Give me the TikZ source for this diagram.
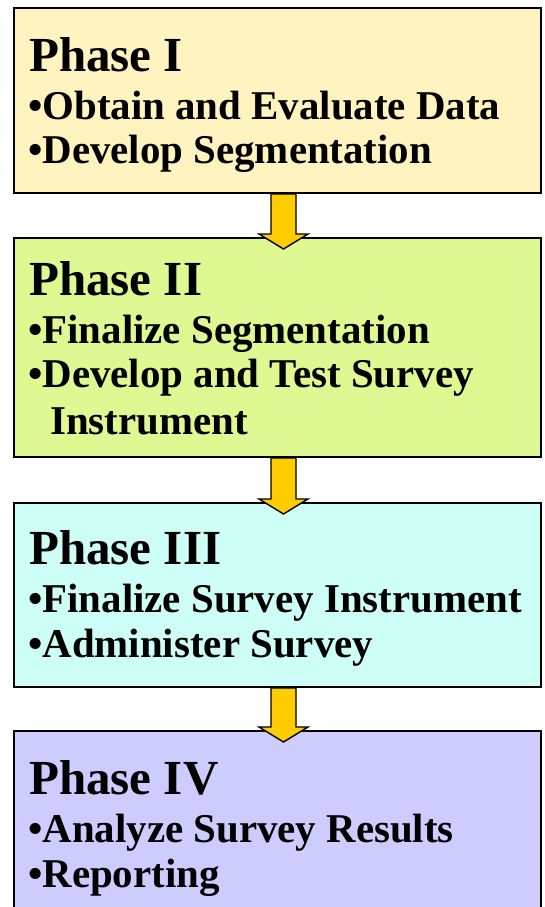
\documentclass[tikz,border=0pt]{standalone}
\usepackage{fontspec}
\setmainfont{Liberation Serif}
\usetikzlibrary{calc}
\definecolor{cI}{RGB}{255,244,192}
\definecolor{cII}{RGB}{222,248,146}
\definecolor{cIII}{RGB}{206,255,246}
\definecolor{cIV}{RGB}{204,204,255}
\definecolor{arr}{RGB}{255,204,0}
\begin{document}
\begin{tikzpicture}[x=1pt,y=-1pt,
  phasebox/.style={draw=black,line width=2pt,anchor=north west,inner sep=0pt,minimum width=527pt},
  title/.style={anchor=base west,inner sep=0pt,font=\fontsize{49}{49}\selectfont\bfseries},
  item/.style={anchor=base west,inner sep=0pt,font=\fontsize{40.9}{40.9}\selectfont\bfseries},
  flowarrow/.style={draw=black,line width=1.4pt,fill=arr,line join=miter}]
\useasboundingbox (0,0) rectangle (545,907);
\begin{scope}
\clip (0,0) rectangle (545,907);
\node[phasebox,fill=cI,minimum height=185pt] (b1) at (13,7) {};
\node[phasebox,fill=cII,minimum height=219pt] (b2) at (13,237) {};
\node[phasebox,fill=cIII,minimum height=184pt] (b3) at (13,502) {};
\node[phasebox,fill=cIV,minimum height=200pt] (b4) at (13,730) {};
\end{scope}
% arrows
\foreach \a/\b in {b1/b2,b2/b3,b3/b4}{
  \coordinate (s) at ($(\a.south)+(6,0)$);
  \coordinate (n) at ($(\b.north)+(6,0)$);
  \draw[flowarrow] ($(s)+(-12.5,0)$) -- ($(s)+(12.5,0)$) -- ($(n)+(12.5,-3)$) -- ($(n)+(24.5,-3)$)
     -- ($(n)+(0,12)$) -- ($(n)+(-24.5,-3)$) -- ($(n)+(-12.5,-3)$) -- cycle;
}
% texts
\node[title] (t1) at (29,71) {Phase I};
\node[item] (i11) at (28,119) {•Obtain and Evaluate Data};
\node[item] (i12) at (28,163) {•Develop Segmentation};
\node[title] (t2) at (29,295) {Phase II};
\node[item] (i21) at (28,343) {•Finalize Segmentation};
\node[item] (i22) at (28,387) {•Develop and Test Survey};
\node[item] (i23) at (50,434) {Instrument};
\node[title] (t3) at (29,564) {Phase III};
\node[item] (i31) at (28,612) {•Finalize Survey Instrument};
\node[item] (i32) at (28,657) {•Administer Survey};
\node[title] (t4) at (29,794) {Phase IV};
\node[item] (i41) at (28,842) {•Analyze Survey Results};
\node[item] (i42) at (28,887) {•Reporting};
\end{tikzpicture}
\end{document}
